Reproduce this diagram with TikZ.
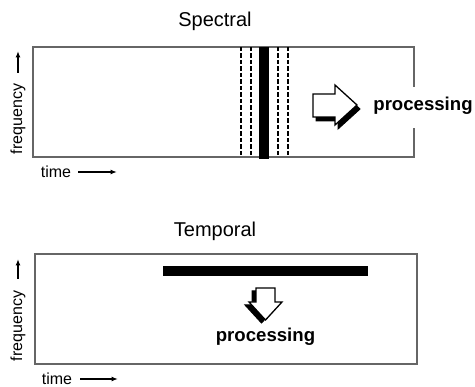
\documentclass[tikz,border=0pt]{standalone}
\usepackage{fontspec}
\setmainfont{Liberation Sans}
\usetikzlibrary{arrows.meta}
\begin{document}
\begin{tikzpicture}[x=1pt,y=-1pt,
  frame/.style={draw=black!60,line width=1.1pt},
  title/.style={font=\fontsize{20}{22}\selectfont,inner sep=0pt},
  proc/.style={font=\bfseries\fontsize{18.6}{20}\selectfont,inner sep=0pt},
  axis/.style={font=\fontsize{16}{18}\selectfont,inner sep=0pt},
  axarrow/.style={line width=2.2pt,-{Latex[length=6.5pt,width=5pt]}},
  dashline/.style={line width=2.7pt,dash pattern=on 4.5pt off 2pt},
  bigarrow/.style={draw=black,line width=1.3pt,fill=white,line join=miter},
  shadowshape/.style={fill=black,draw=black,line width=1pt}]
\useasboundingbox (0,0) rectangle (475,387);
% ---------- Spectral ----------
\node[title] (t1) at (215,21) {Spectral};
\coordinate (s1) at (33,47);
\coordinate (s2) at (414,47);
\coordinate (s3) at (414,157);
\coordinate (s4) at (33,157);
\draw[frame] (414,87) -- (s2) -- (s1) -- (s4) -- (s3) -- (414,128);
\foreach \x in {241,251,278,288}
  \draw[dashline] (\x,47) -- (\x,157);
\fill (259,47) rectangle (269,159);
\draw[shadowshape] (316,98) -- (338,98) -- (338,89) -- (360,109) -- (338,129) -- (338,121) -- (316,121) -- cycle;
\draw[bigarrow] (313,94) -- (335,94) -- (335,85) -- (357,105) -- (335,125) -- (335,117) -- (313,117) -- cycle;
\node[proc] (p1) at (423,106) {processing};
\node[axis,rotate=90] (f1) at (18,119) {frequency};
\coordinate (fa1) at (18,73);
\coordinate (fb1) at (18,51);
\draw[axarrow] (fa1) -- (fb1);
\node[axis] (tm1) at (56,172) {time};
\coordinate (ta1) at (78,172);
\coordinate (tb1) at (117,172);
\draw[axarrow] (ta1) -- (tb1);
% ---------- Temporal ----------
\node[title] (t2) at (215,231) {Temporal};
\node[frame,minimum width=382pt,minimum height=110pt,inner sep=0pt] (b2) at (226,309) {};
\fill (163,266) rectangle (368,276);
\draw[shadowshape] (252,291) -- (271,291) -- (271,305) -- (278,305) -- (261.5,323) -- (245,305) -- (252,305) -- cycle;
\draw[bigarrow] (256,288) -- (275,288) -- (275,302) -- (282,302) -- (265.5,320) -- (249,302) -- (256,302) -- cycle;
\node[proc] (p2) at (265.5,337) {processing};
\node[axis,rotate=90] (f2) at (18,326) {frequency};
\coordinate (fa2) at (18,279);
\coordinate (fb2) at (18,259);
\draw[axarrow] (fa2) -- (fb2);
\node[axis] (tm2) at (57,379) {time};
\coordinate (ta2) at (80,379);
\coordinate (tb2) at (118,379);
\draw[axarrow] (ta2) -- (tb2);
\end{tikzpicture}
\end{document}
